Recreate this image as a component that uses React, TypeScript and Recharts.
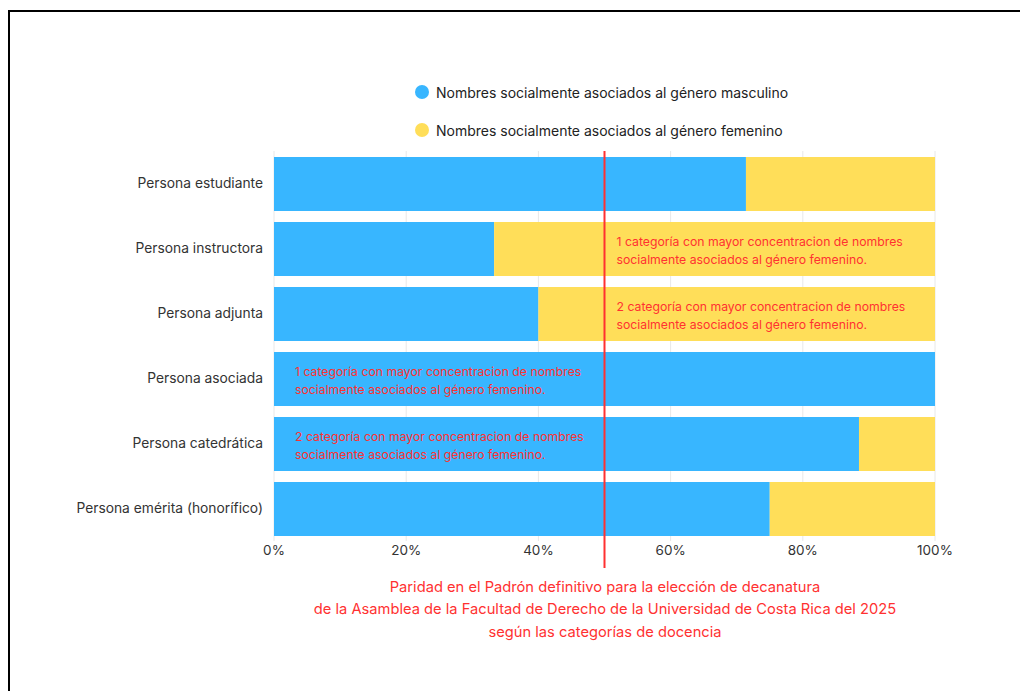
import React from 'react';
import {
  BarChart,
  Bar,
  XAxis,
  YAxis,
  CartesianGrid,
  Legend,
  ReferenceLine,
  ReferenceArea
} from 'recharts';

// Categories (docencia) and shares
const CATEGORIES = [
  'Persona estudiante',
  'Persona instructora',
  'Persona adjunta',
  'Persona asociada',
  'Persona catedrática',
  'Persona emérita (honorífico)'
];
const MASCULINO = [71.4, 33.3, 40, 100, 88.5, 75];
const FEMENINO = [28.6, 66.7, 60, 0, 11.5, 25];

const X_TICKS = [0, 20, 40, 60, 80, 100];
const PARIDAD = 50;

const SERIES_NAMES = [
  'Nombres socialmente asociados al género masculino',
  'Nombres socialmente asociados al género femenino'
];

// Annotations written over the bars
const NOTE_ROWS = ['Persona instructora', 'Persona adjunta', 'Persona asociada', 'Persona catedrática'];
const NOTE_FROM = [50, 50, 0, 0];
const NOTE_LINES = [
  ['1 categoría con mayor concentracion de nombres', 'socialmente asociados al género femenino.'],
  ['2 categoría con mayor concentracion de nombres', 'socialmente asociados al género femenino.'],
  ['1 categoría con mayor concentracion de nombres', 'socialmente asociados al género femenino.'],
  ['2 categoría con mayor concentracion de nombres', 'socialmente asociados al género femenino.']
];

const TITLE_LINES = [
  'Paridad en el Padrón definitivo para la elección de decanatura',
  'de la Asamblea de la Facultad de Derecho de la Universidad de Costa Rica del 2025',
  'según las categorías de docencia'
];

const BLUE = '#38B6FF';
const YELLOW = '#FFDE59';
const RED = '#FF3131';
const FONT = 'Inter, "Noto Sans", sans-serif';

const data = CATEGORIES.map((name, i) => ({
  name,
  masculino: MASCULINO[i],
  femenino: FEMENINO[i]
}));

const LegendContent: React.FC<any> = () => (
  <div style={{ fontFamily: FONT }}>
    {SERIES_NAMES.map((label, i) => (
      <div
        key={label}
        style={{ display: 'flex', alignItems: 'center', height: 20, marginBottom: 18 }}
      >
        <span
          style={{
            width: 14,
            height: 14,
            borderRadius: '50%',
            background: i === 0 ? BLUE : YELLOW,
            display: 'inline-block',
            marginRight: 7
          }}
        />
        <span style={{ fontSize: 14, color: '#222' }}>{label}</span>
      </div>
    ))}
  </div>
);

const noteLabel = (lines: string[], dx: number) => (props: any) => {
  const { x, y, height } = props.viewBox;
  const cy = y + height / 2;
  return (
    <text fontFamily={FONT} fontSize={12.25} fill={RED}>
      <tspan x={x + dx} y={cy - 6.5} dy="0.35em">{lines[0]}</tspan>
      <tspan x={x + dx} y={cy + 11.5} dy="0.35em">{lines[1]}</tspan>
    </text>
  );
};

// Paridad line runs a little below the plot, down to the axis labels
const ParidadLine: React.FC<any> = (props) => (
  <line
    x1={props.x1}
    y1={Math.min(props.y1, props.y2)}
    x2={props.x2}
    y2={Math.max(props.y1, props.y2) + 27}
    stroke={RED}
    strokeWidth={2}
  />
);

export default function App() {
  return (
    <div>
      <style>{'body { overflow: hidden; }'}</style>
      <div
        style={{
          position: 'absolute',
          left: 8,
          top: 10,
          width: 1040,
          height: 720,
          border: '2px solid #000',
          boxSizing: 'border-box'
        }}
      />
      <div style={{ position: 'absolute', left: 0, top: 0 }}>
        <BarChart
          width={1020}
          height={691}
          data={data}
          layout="vertical"
          margin={{ top: 151, right: 85, bottom: 120, left: 0 }}
        >
          <CartesianGrid horizontal={false} stroke="#e8e8e8" />
          <XAxis
            type="number"
            domain={[0, 100]}
            ticks={X_TICKS}
            tickFormatter={(v) => `${v}%`}
            axisLine={false}
            tickLine={false}
            tickSize={0}
            tickMargin={4}
            height={30}
            tick={{ fill: '#333', fontSize: 13.5, fontFamily: FONT }}
          />
          <YAxis
            type="category"
            dataKey="name"
            width={274}
            axisLine={false}
            tickLine={false}
            tickSize={0}
            tickMargin={11}
            tick={{ fill: '#333', fontSize: 13.8, fontFamily: FONT }}
          />
          <Legend
            layout="horizontal"
            verticalAlign="middle"
            align="center"
            wrapperStyle={{ top: 82, left: 415, width: 440 }}
            content={<LegendContent />}
          />
          <Bar dataKey="masculino" stackId="a" fill={BLUE} barSize={54} isAnimationActive={false} />
          <Bar dataKey="femenino" stackId="a" fill={YELLOW} barSize={54} isAnimationActive={false} />
          {NOTE_ROWS.map((row, i) => (
            <ReferenceArea
              key={row}
              x1={NOTE_FROM[i]}
              x2={100}
              y1={row}
              y2={row}
              ifOverflow="visible"
              fill="none"
              fillOpacity={0}
              stroke="none"
              zIndex={1000}
              label={{ content: noteLabel(NOTE_LINES[i], NOTE_FROM[i] === 0 ? 21 : 12) }}
            />
          ))}
          <ReferenceLine
            x={PARIDAD}
            stroke={RED}
            strokeWidth={2}
            zIndex={1100}
            ifOverflow="visible"
            shape={<ParidadLine />}
          />
        </BarChart>
      </div>
      <div
        style={{
          position: 'absolute',
          top: 576,
          left: 105,
          width: 1000,
          textAlign: 'center',
          fontFamily: FONT,
          fontSize: 14.7,
          lineHeight: '22.3px',
          color: RED
        }}
      >
        {TITLE_LINES.map((t) => (
          <div key={t}>{t}</div>
        ))}
      </div>
    </div>
  );
}
